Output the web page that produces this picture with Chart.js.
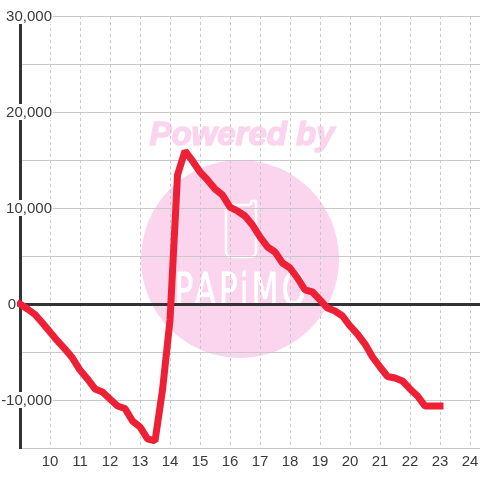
<!DOCTYPE html>
<html>
<head>
<meta charset="utf-8">
<script src="https://cdn.jsdelivr.net/npm/chart.js@4"></script>
<style>
    html, body { margin: 0; padding: 0; background: #fff; }
    canvas { display: block; }
</style>
</head>
<body>
<canvas id="chart" width="480" height="480"></canvas>
<script>
const hours = [
    9, 9.25, 9.5, 9.75, 10, 10.25, 10.5, 10.75, 11, 11.25, 11.5, 11.75,
    12, 12.25, 12.5, 12.75, 13, 13.25, 13.5, 13.75, 14, 14.25, 14.5, 14.75,
    15, 15.25, 15.5, 15.75, 16, 16.25, 16.5, 16.75, 17, 17.25, 17.5, 17.75,
    18, 18.25, 18.5, 18.75, 19, 19.25, 19.5, 19.75, 20, 20.25, 20.5, 20.75,
    21, 21.25, 21.5, 21.75, 22, 22.25, 22.5, 22.75, 23
];
const values = [
    0, -520, -1090, -1980, -2920, -3850, -4690, -5630, -6880, -7810, -8850, -9170,
    -9900, -10630, -10890, -12190, -12810, -14060, -14270, -8960, -1670, 13440, 15940, 14900,
    13750, 12920, 11980, 11350, 10100, 9690, 9170, 8230, 6980, 5940, 5420, 4270,
    3750, 2710, 1460, 1250, 420, -420, -730, -1250, -2290, -3130, -4170, -5520,
    -6560, -7550, -7710, -8020, -8850, -9580, -10630, -10630, -10630
];
const yLabels = { '30000': '30,000', '20000': '20,000', '10000': '10,000', '0': '0', '-10000': '-10,000' };

const FONT = '15px "Liberation Sans"';
const INK = '#3a3a3a';
const PINK = '#fbd5ee';

// Watermark sits under the grid, so it goes in before anything else.
const watermark = {
    id: 'watermark',
    beforeDraw(chart) {
        const ctx = chart.ctx;
        ctx.save();
        ctx.fillStyle = PINK;
        ctx.beginPath();
        ctx.arc(240, 259, 99, 0, Math.PI * 2);
        ctx.fill();

        ctx.font = 'italic bold 33px "Liberation Sans"';
        ctx.textAlign = 'center';
        ctx.textBaseline = 'alphabetic';
        ctx.strokeStyle = PINK;
        ctx.lineWidth = 1.5;
        ctx.lineJoin = 'round';
        ctx.strokeText('Powered by', 242, 145);
        ctx.fillText('Powered by', 242, 145);

        ctx.strokeStyle = '#fff';
        ctx.lineWidth = 2.5;
        ctx.beginPath();
        ctx.moveTo(250, 205);
        ctx.lineTo(231, 205);
        ctx.arcTo(226, 205, 226, 210, 5);
        ctx.lineTo(226, 252);
        ctx.arcTo(226, 257, 231, 257, 5);
        ctx.lineTo(251, 257);
        ctx.arcTo(256, 257, 256, 252, 5);
        ctx.lineTo(256, 201);
        ctx.lineTo(251, 201);
        ctx.lineTo(251, 205);
        ctx.stroke();

        // logo lettering is tall and narrow, squeeze a regular face
        ctx.fillStyle = '#fff';
        ctx.strokeStyle = '#fff';
        ctx.lineWidth = 0.8;
        ctx.translate(242, 305);
        ctx.scale(0.7, 1);
        ctx.font = '44px "DejaVu Sans"';
        ctx.letterSpacing = '4.6px';
        ctx.strokeText('PAPiMO', 0, 0);
        ctx.fillText('PAPiMO', 0, 0);
        ctx.restore();
    }
};

// Y labels sit over the axis on a white patch, so draw them by hand.
const yLabelPatches = {
    id: 'yLabelPatches',
    afterDatasetsDraw(chart) {
        const ctx = chart.ctx;
        const yScale = chart.scales.y;
        ctx.save();
        ctx.font = FONT;
        ctx.textBaseline = 'middle';
        ctx.textAlign = 'right';
        yScale.ticks.forEach(tick => {
            const text = yLabels[tick.value];
            if (!text) return;
            const y = yScale.getPixelForValue(tick.value);
            const right = tick.value === 0 ? 16 : 52;
            const w = ctx.measureText(text).width;
            ctx.fillStyle = '#fff';
            ctx.fillRect(right - w - 1, y - 8, w + 2, 16);
            ctx.fillStyle = INK;
            ctx.fillText(text, right, y + 1);
        });
        ctx.restore();
    }
};

new Chart(document.getElementById('chart').getContext('2d'), {
    type: 'line',
    data: {
        datasets: [{
            data: hours.map((h, i) => ({ x: h, y: values[i] })),
            borderColor: '#ee2036',
            borderWidth: 7,
            borderJoinStyle: 'bevel',
            borderCapStyle: 'square',
            pointRadius: 0,
            tension: 0,
            fill: false,
            clip: false
        }]
    },
    options: {
        responsive: false,
        animation: false,
        events: [],
        layout: { autoPadding: false, padding: { left: 20, top: 16, right: 0, bottom: 0 } },
        plugins: { legend: { display: false }, tooltip: { enabled: false } },
        scales: {
            x: {
                type: 'linear',
                min: 9,
                max: 24.333,
                afterFit: scale => { scale.height = 32; },
                border: { display: true, color: '#c8c8c8', width: 1, dash: [3, 3] },
                grid: {
                    drawTicks: false,
                    color: ctx => ctx.tick && ctx.tick.value === 9 ? 'transparent' : '#c8c8c8',
                    lineWidth: 1
                },
                ticks: {
                    stepSize: 1,
                    includeBounds: false,
                    maxRotation: 0,
                    autoSkip: false,
                    // padding eats into the right edge, lineHeight moves the text down instead
                    padding: 1,
                    color: INK,
                    font: { family: 'Liberation Sans', size: 15, lineHeight: 1.73 },
                    callback: v => v === 9 ? '' : String(v)
                }
            },
            y: {
                min: -15000,
                max: 30000,
                border: { display: true, color: '#333333', width: 3 },
                grid: {
                    drawTicks: false,
                    color: ctx => ctx.tick && ctx.tick.value === 0 ? '#333333' : '#c8c8c8',
                    lineWidth: ctx => ctx.tick && ctx.tick.value === 0 ? 3 : 1
                },
                ticks: { stepSize: 5000, display: false }
            }
        }
    },
    plugins: [watermark, yLabelPatches]
});
</script>
</body>
</html>
